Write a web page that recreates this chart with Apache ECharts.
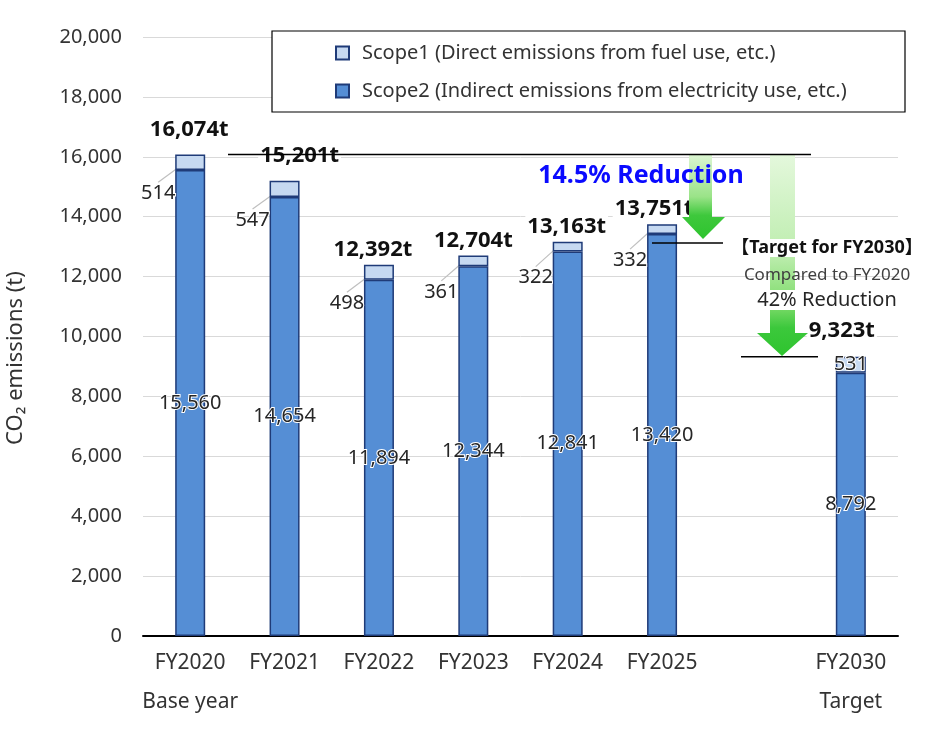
<!DOCTYPE html>
<html>
<head>
<meta charset="utf-8">
<script src="https://cdn.jsdelivr.net/npm/echarts@6/dist/echarts.min.js"></script>
<style>
  html, body { margin: 0; padding: 0; background: #fff; }
  #chart { width: 945px; height: 732px; }
</style>
</head>
<body>
<div id="chart"></div>
<script>
// 年度ごとのデータ（FY2025とFY2030の間は空き）
const categories = ['FY2020', 'FY2021', 'FY2022', 'FY2023', 'FY2024', 'FY2025', '', 'FY2030'];
const subLabels = ['Base year', '', '', '', '', '', '', 'Target'];
const scope1 = [514, 547, 498, 361, 322, 332, null, 531];
const scope2 = [15560, 14654, 11894, 12344, 12841, 13420, null, 8792];
const totals = [16074, 15201, 12392, 12704, 13163, 13751, null, 9323];

// 縦軸の目盛り
const yMin = 0;
const yMax = 20000;
const yInterval = 2000;

const scope1Name = 'Scope1 (Direct emissions from fuel use, etc.)';
const scope2Name = 'Scope2 (Indirect emissions from electricity use, etc.)';

const font = "'Noto Sans', 'Noto Sans CJK JP', sans-serif";
const fmt = v => v.toLocaleString('en-US');

const chart = echarts.init(document.querySelector('#chart'));

// 合計ラベルの位置調整（元の図に合わせる）
const totalShift = [[-1, -10], [15, -10], [-6, 0], [0, 0], [-1, 0], [-8, 0], [0, 0], [-9, -11]];

const option = {
  animation: false,
  textStyle: { fontFamily: font },
  grid: { left: 143, right: 47, top: 37, bottom: 96 },
  legend: {
    data: [scope1Name, scope2Name],
    orient: 'vertical',
    icon: 'rect',
    left: 330,
    top: 38,
    itemGap: 18,
    itemWidth: 13,
    itemHeight: 13,
    z: 10,
    selectedMode: false,
    textStyle: { fontSize: 20, color: '#333', fontFamily: font, padding: [0, 0, 0, 8] }
  },
  xAxis: {
    type: 'category',
    data: categories,
    axisLine: { lineStyle: { color: '#000', width: 2 } },
    axisTick: { show: false },
    axisLabel: {
      interval: 0,
      margin: 8,
      fontSize: 21,
      lineHeight: 39,
      color: '#333',
      formatter: (v, i) => subLabels[i] ? v + '\n' + subLabels[i] : v
    }
  },
  yAxis: {
    type: 'value',
    min: yMin,
    max: yMax,
    interval: yInterval,
    axisLine: { show: false },
    axisTick: { show: false },
    splitLine: { lineStyle: { color: '#d9d9d9', width: 1 } },
    axisLabel: { fontSize: 20, color: '#333', margin: 21, formatter: fmt }
  },
  series: [
    {
      name: scope2Name,
      type: 'bar',
      stack: 'co2',
      barWidth: 30,
      data: scope2.map(v => v === null ? '-' : v),
      itemStyle: { color: '#558ed5', borderColor: '#1f3b78', borderWidth: 1.5 },
      label: {
        show: true,
        position: 'inside',
        fontSize: 20,
        color: '#262626',
        textBorderColor: '#fff',
        textBorderWidth: 2,
        formatter: p => fmt(p.value)
      }
    },
    {
      name: scope1Name,
      type: 'bar',
      stack: 'co2',
      barWidth: 30,
      data: scope1.map((v, i) => v === null ? '-' : {
        value: v,
        labelLine: { show: i !== 7 }
      }),
      itemStyle: { color: '#c6d9f1', borderColor: '#1f3b78', borderWidth: 1.5 },
      label: {
        show: true,
        position: 'inside',
        fontSize: 20,
        color: '#262626',
        textBorderColor: '#fff',
        textBorderWidth: 2,
        formatter: p => fmt(p.value)
      },
      labelLine: { show: true, lineStyle: { color: '#bfbfbf', width: 1.2 } },
      labelLayout: p => p.dataIndex === 7 ? {} : { dx: -32, dy: 31 }
    },
    {
      name: 'Total',
      type: 'bar',
      barWidth: 30,
      barGap: '-100%',
      silent: true,
      z: 1,
      data: totals.map((v, i) => v === null ? '-' : {
        value: v,
        label: { offset: totalShift[i] }
      }),
      itemStyle: { color: 'transparent' },
      label: {
        show: true,
        position: 'top',
        distance: 4,
        fontSize: 22,
        fontWeight: 'bold',
        color: '#111',
        backgroundColor: '#fff',
        padding: [0, 2],
        formatter: p => fmt(p.value) + 't'
      }
    }
  ]
};

chart.setOption(option);

// 基準年と目標値の水平線
const yBase = chart.convertToPixel({ yAxisIndex: 0 }, totals[0]);
const yTarget = chart.convertToPixel({ yAxisIndex: 0 }, totals[7]);

const arrowFill1 = {
  type: 'linear', x: 0, y: 0, x2: 0, y2: 1,
  colorStops: [
    { offset: 0, color: '#dcf5d2' },
    { offset: 0.5, color: '#9ae388' },
    { offset: 0.72, color: '#3ec83c' },
    { offset: 1, color: '#2ec42e' }
  ]
};
const arrowFill2 = {
  type: 'linear', x: 0, y: 0, x2: 0, y2: 1,
  colorStops: [
    { offset: 0, color: '#e4f8dc' },
    { offset: 0.5, color: '#bdedae' },
    { offset: 0.75, color: '#7ddb6a' },
    { offset: 0.86, color: '#3cc83c' },
    { offset: 1, color: '#2ec42e' }
  ]
};

chart.setOption({
  graphic: [
    // 凡例の枠
    {
      type: 'rect', z: 3,
      shape: { x: 272, y: 31, width: 633, height: 81 },
      style: { fill: '#fff', stroke: '#000', lineWidth: 1.2 }
    },
    // 縦軸タイトル
    {
      type: 'text', z: 10, x: 16, y: 358, rotation: Math.PI / 2,
      style: {
        text: 'CO₂ emissions (t)', fontSize: 22, fontFamily: font, fill: '#333',
        align: 'center', verticalAlign: 'middle'
      }
    },
    // 矢印
    {
      type: 'polygon', z: 4,
      shape: { points: [[689, yBase], [712, yBase], [712, 217], [725, 217], [703, 239], [682, 217], [689, 217]] },
      style: { fill: arrowFill1 }
    },
    {
      type: 'polygon', z: 4,
      shape: { points: [[770, yBase], [795, yBase], [795, 333], [808, 333], [782, 356], [757, 333], [770, 333]] },
      style: { fill: arrowFill2 }
    },
    // 水平線
    {
      type: 'line', z: 5,
      shape: { x1: 228, y1: yBase, x2: 811, y2: yBase },
      style: { stroke: '#000', lineWidth: 1.5 }
    },
    {
      type: 'line', z: 5,
      shape: { x1: 652, y1: 243, x2: 723, y2: 243 },
      style: { stroke: '#000', lineWidth: 1.5 }
    },
    {
      type: 'line', z: 5,
      shape: { x1: 741, y1: yTarget, x2: 818, y2: yTarget },
      style: { stroke: '#000', lineWidth: 1.5 }
    },
    // 注記
    {
      type: 'text', z: 10, x: 641, y: 176,
      style: {
        text: '14.5% Reduction', fontSize: 25, fontWeight: 'bold', fontFamily: font,
        fill: '#0a0aff', align: 'center', verticalAlign: 'middle'
      }
    },
    {
      type: 'text', z: 10, x: 827, y: 248,
      style: {
        text: '【Target for FY2030】', fontSize: 18, fontWeight: 'bold', fontFamily: font,
        fill: '#111', align: 'center', verticalAlign: 'middle', backgroundColor: '#fff'
      }
    },
    {
      type: 'text', z: 10, x: 827, y: 275,
      style: {
        text: 'Compared to FY2020', fontSize: 17, fontFamily: font,
        fill: '#404040', align: 'center', verticalAlign: 'middle'
      }
    },
    {
      type: 'text', z: 10, x: 827, y: 300,
      style: {
        text: '42% Reduction', fontSize: 20, fontFamily: font,
        fill: '#262626', align: 'center', verticalAlign: 'middle', backgroundColor: '#fff'
      }
    }
  ]
});
</script>
</body>
</html>
